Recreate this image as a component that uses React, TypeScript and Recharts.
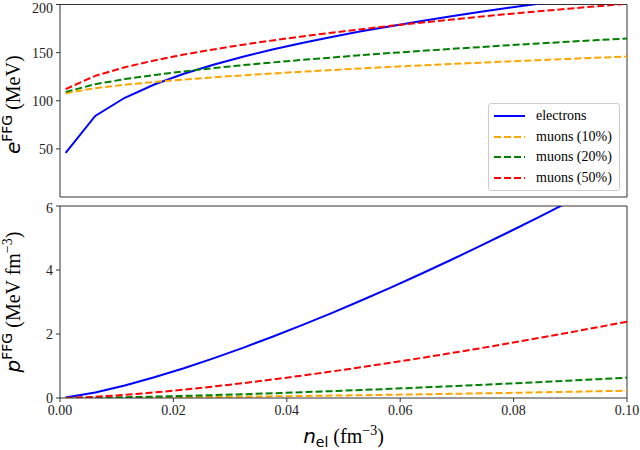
import React from 'react';
import { LineChart, Line, XAxis, YAxis, ReferenceLine, Legend } from 'recharts';

// electron density n_el (fm^-3)
const nel = [0.001, 0.00621, 0.01142, 0.01663, 0.02184, 0.02705, 0.03226, 0.03747, 0.04268, 0.0479,
  0.05311, 0.05832, 0.06353, 0.06874, 0.07395, 0.07916, 0.08437, 0.08958, 0.09479, 0.1];

// energy per particle e^FFG (MeV)
const eElectrons = [45.8, 84.2, 103.1, 116.9, 128.0, 137.4, 145.8, 153.2, 160.0, 166.3,
  172.1, 177.5, 182.7, 187.6, 192.2, 196.6, 200.8, 204.9, 208.8, 212.5];
const eMuons10 = [107.9, 113.1, 116.6, 119.5, 122.0, 124.3, 126.4, 128.3, 130.2, 131.9,
  133.6, 135.2, 136.7, 138.1, 139.5, 140.9, 142.2, 143.5, 144.7, 145.9];
const eMuons20 = [109.2, 117.2, 122.5, 126.8, 130.5, 133.9, 137.0, 139.8, 142.4, 144.9,
  147.3, 149.6, 151.7, 153.8, 155.7, 157.7, 159.5, 161.3, 163.0, 164.7];
const eMuons50 = [112.1, 125.9, 134.8, 141.9, 148.0, 153.3, 158.2, 162.7, 166.8, 170.7,
  174.3, 177.8, 181.1, 184.2, 187.3, 190.2, 192.9, 195.6, 198.2, 200.8];

// pressure p^FFG (MeV fm^-3)
const pElectrons = [0.015, 0.174, 0.393, 0.648, 0.932, 1.239, 1.567, 1.914, 2.276, 2.654,
  3.046, 3.451, 3.868, 4.297, 4.736, 5.187, 5.647, 6.116, 6.595, 7.083];
const pMuons10 = [0.0001, 0.0003, 0.008, 0.014, 0.022, 0.031, 0.040, 0.051, 0.062, 0.075,
  0.087, 0.101, 0.115, 0.129, 0.145, 0.160, 0.177, 0.193, 0.210, 0.228];
const pMuons20 = [0.0005, 0.009, 0.024, 0.042, 0.065, 0.090, 0.118, 0.148, 0.180, 0.214,
  0.250, 0.287, 0.326, 0.366, 0.408, 0.451, 0.496, 0.542, 0.589, 0.636];
const pMuons50 = [0.002, 0.038, 0.098, 0.173, 0.260, 0.358, 0.464, 0.578, 0.700, 0.828,
  0.962, 1.101, 1.246, 1.396, 1.550, 1.709, 1.872, 2.040, 2.211, 2.386];

const seriesNames = ['electrons', 'muons (10%)', 'muons (20%)', 'muons (50%)'];
const xTicks = [0, 0.02, 0.04, 0.06, 0.08, 0.1];
const xTickLabels = ['0.00', '0.02', '0.04', '0.06', '0.08', '0.10'];
const eTicks = [0, 50, 100, 150, 200];
const pTicks = [0, 2, 4, 6];

const topData = nel.map((n, i) => ({ n, el: eElectrons[i], m10: eMuons10[i], m20: eMuons20[i], m50: eMuons50[i] }));
const botData = nel.map((n, i) => ({ n, el: pElectrons[i], m10: pMuons10[i], m20: pMuons20[i], m50: pMuons50[i] }));

const COLORS = ['blue', 'orange', 'green', 'red'];
const KEYS = ['el', 'm10', 'm20', 'm50'];
const DASH = [undefined, '7 3', '7 3', '7 3'];

const SERIF = "'Liberation Serif', 'Times New Roman', Times, serif";
const SANS = "'DejaVu Sans', sans-serif";
const AX = '#333';
const tickStyle = { fontFamily: SERIF, fontSize: 14, fill: '#222', style: { fontFamily: SERIF } };

const renderLines = () =>
  KEYS.map((k, i) => (
    <Line key={k} dataKey={k} name={seriesNames[i]} type="linear" stroke={COLORS[i]} strokeWidth={2}
      strokeDasharray={DASH[i]} dot={false} activeDot={false} isAnimationActive={false} />
  ));

const LegendBox = () => (
  <div style={{ background: 'rgba(255,255,255,0.85)', border: '1px solid #ccc', borderRadius: 3,
    padding: '2px 5px 2px 5px', fontFamily: SERIF, fontSize: 14, color: '#000', whiteSpace: 'nowrap',
    boxSizing: 'border-box', width: 132 }}>
    {seriesNames.map((name, i) => (
      <div key={name} style={{ display: 'flex', alignItems: 'center', height: 20.6 }}>
        <svg width={31} height={10} style={{ marginRight: 11, flex: 'none' }}>
          <line x1={0} y1={5} x2={31} y2={5} stroke={COLORS[i]} strokeWidth={2} strokeDasharray={DASH[i]} />
        </svg>
        <span>{name}</span>
      </div>
    ))}
  </div>
);

const TopYLabel = (props: any) => {
  const vb = props.viewBox;
  const cx = 20;
  const cy = vb.y + vb.height / 2 + 4;
  return (
    <text x={cx} y={cy} transform={`rotate(-90, ${cx}, ${cy})`} textAnchor="middle" fill="#000">
      <tspan style={{ fontFamily: SANS }} fontStyle="italic" fontSize={20}>e</tspan>
      <tspan style={{ fontFamily: SANS }} fontSize={14} dy={-8}>FFG</tspan>
      <tspan style={{ fontFamily: SERIF }} fontSize={20} dy={8}>{'\u00A0(MeV)'}</tspan>
    </text>
  );
};

const BotYLabel = (props: any) => {
  const vb = props.viewBox;
  const cx = 20;
  const cy = vb.y + vb.height / 2;
  return (
    <text x={cx} y={cy} transform={`rotate(-90, ${cx}, ${cy})`} textAnchor="middle" fill="#000">
      <tspan style={{ fontFamily: SANS }} fontStyle="italic" fontSize={20}>p</tspan>
      <tspan style={{ fontFamily: SANS }} fontSize={14} dy={-8}>FFG</tspan>
      <tspan style={{ fontFamily: SERIF }} fontSize={20} dy={8}>{'\u00A0(MeV fm'}</tspan>
      <tspan style={{ fontFamily: SERIF }} fontSize={14} dy={-8}>{'\u22123'}</tspan>
      <tspan style={{ fontFamily: SERIF }} fontSize={20} dy={8}>)</tspan>
    </text>
  );
};

const XLabel = (props: any) => {
  const vb = props.viewBox;
  const cx = vb.x + vb.width / 2;
  const cy = 243;
  return (
    <text x={cx} y={cy} textAnchor="middle" fill="#000">
      <tspan style={{ fontFamily: SANS }} fontStyle="italic" fontSize={20}>n</tspan>
      <tspan style={{ fontFamily: SANS }} fontSize={14} dy={4}>el</tspan>
      <tspan style={{ fontFamily: SERIF }} fontSize={20} dy={-4}>{'\u00A0(fm'}</tspan>
      <tspan style={{ fontFamily: SERIF }} fontSize={14} dy={-8}>{'\u22123'}</tspan>
      <tspan style={{ fontFamily: SERIF }} fontSize={20} dy={8}>)</tspan>
    </text>
  );
};

export default function App() {
  return (
    <div style={{ position: 'absolute', left: 0, top: 0, width: 640, height: 450, background: '#fff', fontFamily: SERIF }}>
      <div style={{ position: 'absolute', left: 0, top: 0 }}>
        <LineChart width={640} height={202} data={topData} margin={{ top: 4.5, right: 13, bottom: 0, left: 0 }}
          style={{ fontFamily: SERIF }}>
          <XAxis dataKey="n" type="number" domain={[0, 0.1]} ticks={xTicks} tick={false} height={5}
            tickSize={4} axisLine={{ stroke: AX }} tickLine={{ stroke: AX }} allowDataOverflow />
          <YAxis type="number" domain={[0, 200]} ticks={eTicks} width={60} tickSize={4} tickMargin={3}
            tick={tickStyle} axisLine={{ stroke: AX }} tickLine={{ stroke: AX }} allowDataOverflow
            label={<TopYLabel />} />
          <ReferenceLine y={200} stroke={AX} />
          <ReferenceLine x={0.1} stroke={AX} />
          {renderLines()}
          <Legend layout="vertical" align="center" verticalAlign="middle" content={<LegendBox />}
            wrapperStyle={{ left: 488, top: 103, width: 132 }} />
        </LineChart>
      </div>
      <div style={{ position: 'absolute', left: 0, top: 200 }}>
        <LineChart width={640} height={250} data={botData} margin={{ top: 6, right: 13, bottom: 0, left: 0 }}
          style={{ fontFamily: SERIF }}>
          <XAxis dataKey="n" type="number" domain={[0, 0.1]} ticks={xTicks} height={52}
            tickFormatter={(v: number) => xTickLabels[xTicks.indexOf(v)] ?? ''}
            tickSize={4} tickMargin={3} tick={tickStyle} axisLine={{ stroke: AX }} tickLine={{ stroke: AX }}
            allowDataOverflow label={<XLabel />} />
          <YAxis type="number" domain={[0, 6]} ticks={pTicks} width={60} tickSize={4} tickMargin={3}
            tick={tickStyle} axisLine={{ stroke: AX }} tickLine={{ stroke: AX }} allowDataOverflow
            label={<BotYLabel />} />
          <ReferenceLine y={6} stroke={AX} />
          <ReferenceLine x={0.1} stroke={AX} />
          {renderLines()}
        </LineChart>
      </div>
    </div>
  );
}
